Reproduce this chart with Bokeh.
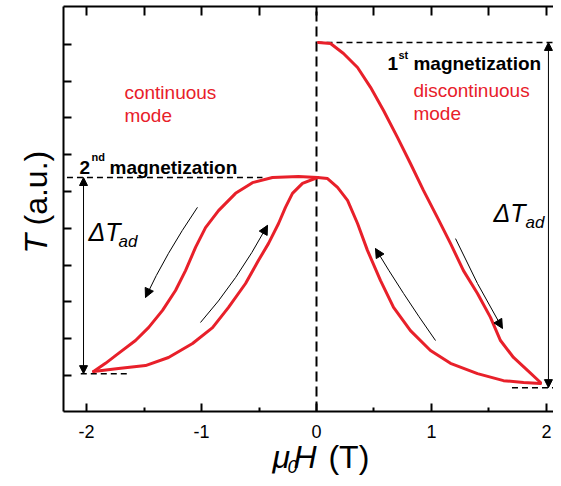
from bokeh.plotting import figure
from bokeh.models import (Range1d, LinearAxis, FixedTicker, Arrow, NormalHead, Label,
                          CustomLabelingPolicy)
from bokeh.embed import file_html
from bokeh.resources import INLINE

# ---------------- data ----------------
# field mu0H (T), temperature T (a.u.)
h_mag1 = [0.017, 0.122, 0.235, 0.357, 0.470, 0.583, 0.704, 0.817, 0.930, 1.052,
          1.165, 1.278, 1.400, 1.513, 1.600, 1.713, 1.835, 1.948]
t_mag1 = [9.05, 9.02, 8.75, 8.37, 7.83, 7.20, 6.47, 5.76, 5.03, 4.29,
          3.59, 2.85, 2.23, 1.58, 0.95, 0.49, 0.14, -0.19]

h_dem1 = [1.948, 1.800, 1.626, 1.400, 1.165, 0.991, 0.817, 0.670, 0.557, 0.443,
          0.357, 0.270, 0.183, 0.096, 0.009]
t_dem1 = [-0.22, -0.19, -0.14, 0.05, 0.33, 0.68, 1.22, 1.85, 2.58, 3.40,
          4.13, 4.76, 5.11, 5.35, 5.38]

h_mag2 = [0.009, -0.157, -0.383, -0.557, -0.704, -0.852, -0.965, -1.052, -1.139,
          -1.226, -1.339, -1.461, -1.574, -1.722, -1.835, -1.939]
t_mag2 = [5.38, 5.41, 5.38, 5.24, 4.95, 4.48, 4.02, 3.48, 2.85,
          2.31, 1.77, 1.30, 0.95, 0.60, 0.33, 0.11]

h_dem2 = [-1.939, -1.722, -1.487, -1.287, -1.078, -0.904, -0.765, -0.617, -0.504,
          -0.417, -0.330, -0.270, -0.209, -0.122, 0.009]
t_dem2 = [0.11, 0.19, 0.27, 0.49, 0.87, 1.30, 1.85, 2.50, 3.13,
          3.59, 4.13, 4.57, 4.95, 5.22, 5.38]

# reference temperature levels
t_top1 = 9.05    # start of 1st magnetization
t_top2 = 5.38    # start of 2nd magnetization
t_low2 = 0.05    # end of 2nd magnetization (at -2 T)
t_low1 = -0.33   # end of 1st magnetization (at +2 T)

# axes box (data units)
h_min, h_max = -2.2, 2.061
t_min, t_max = -0.978, 10.027

x_ticks = [-2, -1, 0, 1, 2]
x_tick_labels = {-2: "-2", -1: "-1", 0: "0", 1: "1", 2: "2"}
x_minor = [-1.5, -0.5, 0.5, 1.5]
x_top_ticks = [-2, -1.5, -1, -0.5, 0, 0.5, 1, 1.5, 2]
y_ticks = [0, 1, 2, 3, 4, 5, 6, 7, 8, 9]

RED = "#e8202a"
FONT = "Liberation Sans"

# ---------------- figure (frame = whole canvas, axes fixed inside) ----------------
p = figure(width=553, height=478, x_range=Range1d(-2.748, 2.061), y_range=Range1d(-2.799, 10.190),
           output_backend="svg", toolbar_location=None,
           x_axis_location=None, y_axis_location=None,
           min_border_left=0, min_border_right=0, min_border_top=0, min_border_bottom=0)
p.outline_line_color = None
p.background_fill_color = "white"
p.border_fill_color = "white"
p.grid.visible = False

bottom = LinearAxis(fixed_location=t_min, bounds=(h_min, h_max),
                    ticker=FixedTicker(ticks=x_ticks, minor_ticks=x_minor),
                    major_label_overrides=x_tick_labels,
                    major_tick_in=8, major_tick_out=0, minor_tick_in=4, minor_tick_out=0,
                    axis_line_width=2, major_tick_line_width=2, minor_tick_line_width=2,
                    major_label_text_font=FONT, major_label_text_font_size="18px",
                    major_label_text_color="black", major_label_standoff=14)
p.add_layout(bottom, "below")

top = LinearAxis(fixed_location=t_max, bounds=(h_min, h_max),
                 ticker=FixedTicker(ticks=x_top_ticks),
                 major_label_policy=CustomLabelingPolicy(code="return []"),
                 major_tick_in=9, major_tick_out=0, minor_tick_line_color=None,
                 axis_line_width=2, major_tick_line_width=2,
                 major_label_text_font_size="1px", major_label_standoff=0)
p.add_layout(top, "above")

left = LinearAxis(fixed_location=h_min, bounds=(t_min, t_max),
                  ticker=FixedTicker(ticks=y_ticks),
                  major_label_policy=CustomLabelingPolicy(code="return []"),
                  major_tick_in=8, major_tick_out=0, minor_tick_line_color=None,
                  axis_line_width=2, major_tick_line_width=2,
                  major_label_text_font_size="1px", major_label_standoff=0)
p.add_layout(left, "left")

# ---------------- dashed guides ----------------
p.line([0, 0], [t_min, t_max], line_color="black", line_width=2, line_dash="10 5")
p.line([-2.17, -0.47], [t_top2, t_top2], line_color="black", line_width=1.5, line_dash="6 4")
p.line([0.0, h_max], [t_top1, t_top1], line_color="black", line_width=1.5, line_dash="6 4")
p.line([-2.05, -1.62], [t_low2, t_low2], line_color="black", line_width=1.5, line_dash="6 4")
p.line([1.70, h_max], [t_low1, t_low1], line_color="black", line_width=1.5, line_dash="6 4")

# ---------------- curves ----------------
for hx, ty in [(h_mag1, t_mag1), (h_dem1, t_dem1), (h_mag2, t_mag2), (h_dem2, t_dem2)]:
    p.line(hx, ty, line_color=RED, line_width=3, line_join="round", line_cap="round")

# ---------------- double arrows (Delta T_ad) ----------------
def head(size):
    return NormalHead(size=size, fill_color="black", line_color="black")

p.add_layout(Arrow(start=head(8), end=head(8), x_start=-2.026, y_start=t_top2,
                   x_end=-2.026, y_end=t_low2, line_width=1))
p.add_layout(Arrow(start=head(8), end=head(8), x_start=2.017, y_start=t_top1,
                   x_end=2.017, y_end=t_low1, line_width=1))

# ---------------- curved direction arrows ----------------
curved = [
    ((-1.035, 4.57), (-1.287, 3.32), (-1.487, 2.12)),
    ((-1.009, 1.44), (-0.704, 2.66), (-0.426, 4.08)),
    ((1.035, 0.95), (0.757, 2.23), (0.513, 3.45)),
    ((1.209, 3.72), (1.400, 2.50), (1.617, 1.28)),
]
for s, m, e in curved:
    cx = 2 * m[0] - (s[0] + e[0]) / 2
    cy = 2 * m[1] - (s[1] + e[1]) / 2
    p.quadratic(x0=[s[0]], y0=[s[1]], x1=[e[0]], y1=[e[1]], cx=[cx], cy=[cy],
                line_color="black", line_width=1)
    k = 0.15
    p.add_layout(Arrow(end=head(9), x_start=e[0] - k * (e[0] - cx), y_start=e[1] - k * (e[1] - cy),
                       x_end=e[0], y_end=e[1], line_width=1))

# ---------------- texts ----------------
def lab(x, y, text, size, color="black", style="normal", angle=0.0):
    p.add_layout(Label(x=x, y=y, text=text, text_font=FONT, text_font_size=size,
                       text_color=color, text_font_style=style, angle=angle,
                       text_baseline="alphabetic", text_align="left"))

lab(-1.670, 7.69, "continuous", "19px", RED)
lab(-1.670, 7.07, "mode", "19px", RED)
lab(0.843, 7.745, "discontinuous", "19px", RED)
lab(0.843, 7.12, "mode", "19px", RED)

lab(0.617, 8.478, "1", "19px", style="bold")
lab(0.713, 8.70, "st", "11px", style="bold")
lab(0.843, 8.478, "magnetization", "19px", style="bold")

lab(-2.061, 5.652, "2", "19px", style="bold")
lab(-1.957, 5.924, "nd", "11px", style="bold")
lab(-1.800, 5.652, "magnetization", "19px", style="bold")

lab(-1.983, 3.886, "\u0394T", "25px", style="italic")
lab(-1.722, 3.641, "ad", "17px", style="italic")
lab(1.539, 4.429, "\u0394T", "25px", style="italic")
lab(1.817, 4.158, "ad", "17px", style="italic")

# axis titles
lab(-0.383, -2.228, "\u03bc", "32px", style="italic")
lab(-0.252, -2.473, "0", "18px", style="italic")
lab(-0.200, -2.228, "H", "32px", style="italic")
lab(0.104, -2.228, "(T)", "32px")

lab(-2.435, 3.315, "T", "32px", style="italic", angle=1.5708)
lab(-2.435, 4.076, "(a.u.)", "32px", angle=1.5708)

open("out.html", "w").write(file_html(p, INLINE))
